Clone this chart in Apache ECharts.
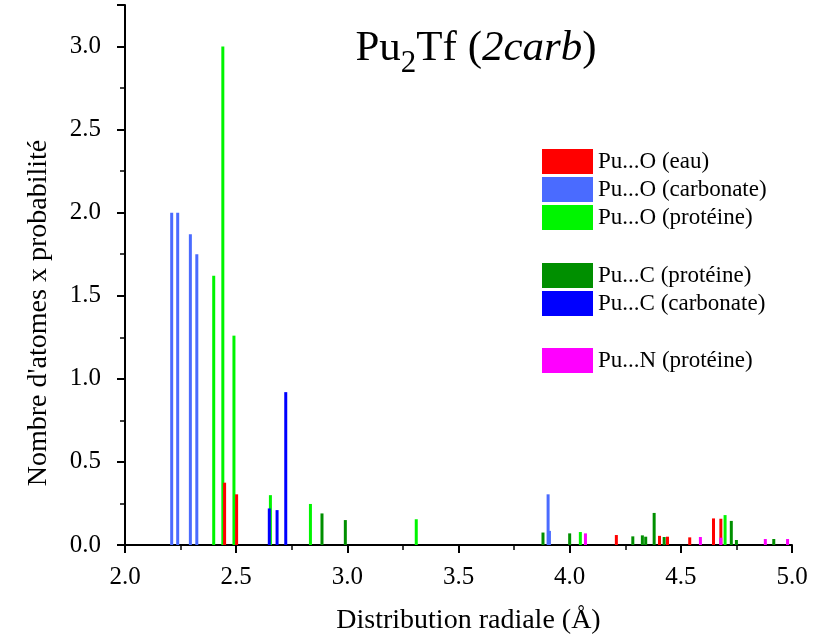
<!DOCTYPE html>
<html>
<head>
<meta charset="utf-8">
<script src="https://cdn.jsdelivr.net/npm/echarts@6/dist/echarts.min.js"></script>
<style>
  html, body { margin: 0; padding: 0; background: #fff; }
  #myChart { width: 813px; height: 643px; }
</style>
</head>
<body>
<div id="myChart"></div>
<script>
// distances (Å) and heights, one pair of arrays per series
var oEauX = [2.448, 2.502, 4.21, 4.404, 4.44, 4.54, 4.647, 4.68];
var oEauY = [0.375, 0.305, 0.06, 0.055, 0.05, 0.046, 0.16, 0.158];

var oCarbX = [2.21, 2.237, 2.294, 2.323, 3.903, 3.909];
var oCarbY = [2.0, 2.0, 1.87, 1.75, 0.305, 0.085];

var oProtX = [2.399, 2.44, 2.49, 2.654, 2.834, 3.31, 4.048, 4.699];
var oProtY = [1.62, 3.0, 1.26, 0.30, 0.247, 0.155, 0.078, 0.18];

var cProtX = [2.886, 2.991, 3.88, 4.0, 4.284, 4.327, 4.342, 4.38, 4.425, 4.727, 4.75, 4.918];
var cProtY = [0.19, 0.15, 0.075, 0.07, 0.052, 0.058, 0.05, 0.193, 0.048, 0.145, 0.03, 0.036];

var cCarbX = [2.649, 2.684, 2.723];
var cCarbY = [0.22, 0.21, 0.92];

var nProtX = [4.071, 4.588, 4.68, 4.88, 4.98];
var nProtY = [0.07, 0.048, 0.044, 0.036, 0.036];

var names = ['Pu...O (eau)', 'Pu...O (carbonate)', 'Pu...O (protéine)',
             'Pu...C (protéine)', 'Pu...C (carbonate)', 'Pu...N (protéine)'];
var colors = ['#ff0000', '#4a6bff', '#00f500', '#008f00', '#0000ff', '#ff00ff'];
var xs = [oEauX, oCarbX, oProtX, cProtX, cCarbX, nProtX];
var ys = [oEauY, oCarbY, oProtY, cProtY, cCarbY, nProtY];
var zOrder = [5, 2, 3, 2, 4, 6];

function pairs (a, b) {
  var out = [];
  for (var i = 0; i < a.length; i++) out.push([a[i], b[i]]);
  return out;
}

var serif = 'Liberation Serif';
var series = [];
for (var k = 0; k < names.length; k++) {
  series.push({
    name: names[k],
    type: 'bar',
    barWidth: 3,
    barGap: '-100%',
    z: zOrder[k],
    itemStyle: { color: colors[k] },
    data: pairs(xs[k], ys[k])
  });
}

function legendBlock (top, data) {
  return {
    orient: 'vertical',
    left: 537,
    top: top,
    itemWidth: 51,
    itemHeight: 25,
    itemGap: 3,
    icon: 'rect',
    data: data,
    selectedMode: false,
    textStyle: { fontFamily: serif, fontSize: 23, color: '#000', padding: [0, 0, 0, 0] }
  };
}

var myChart = echarts.init(document.getElementById('myChart'));
myChart.setOption({
  animation: false,
  title: {
    text: '{a|Pu}{s|2}{a|Tf (}{i|2carb}{a|)}',
    left: 471,
    top: 13,
    textAlign: 'center',
    textStyle: {
      fontWeight: 'normal',
      rich: {
        a: { fontFamily: serif, fontSize: 43, fontWeight: 'normal', color: '#000' },
        s: { fontFamily: serif, fontSize: 31, fontWeight: 'normal', color: '#000', padding: [30, 0, 0, 0] },
        i: { fontFamily: serif, fontSize: 43, fontWeight: 'normal', fontStyle: 'italic', color: '#000' }
      }
    }
  },
  legend: [
    legendBlock(144, names.slice(0, 3)),
    legendBlock(258, names.slice(3, 5)),
    legendBlock(343, names.slice(5))
  ],
  grid: { left: 125, right: 21, top: 5, bottom: 98 },
  xAxis: {
    type: 'value',
    min: 2.0,
    max: 5.0,
    interval: 0.5,
    name: 'Distribution radiale (Å)',
    nameLocation: 'middle',
    nameGap: 62,
    nameTextStyle: { fontFamily: serif, fontSize: 28, color: '#000', padding: [0, 0, 0, 20] },
    axisLine: { lineStyle: { color: '#000', width: 2 } },
    axisTick: { inside: false, length: 8, lineStyle: { color: '#000', width: 2 } },
    minorTick: { show: true, splitNumber: 2, length: 5, lineStyle: { color: '#000', width: 1.5 } },
    axisLabel: {
      margin: 20,
      fontFamily: serif, fontSize: 25, color: '#000',
      formatter: function (v) { return v.toFixed(1); }
    },
    splitLine: { show: false }
  },
  yAxis: {
    type: 'value',
    min: 0,
    max: 3.25,
    interval: 0.5,
    name: "Nombre d'atomes x probabilité",
    nameLocation: 'middle',
    nameGap: 72,
    nameTextStyle: { fontFamily: serif, fontSize: 28, color: '#000', padding: [0, 76, 0, 0] },
    axisLine: { show: true, lineStyle: { color: '#000', width: 2 } },
    axisTick: { show: true, inside: false, length: 8, lineStyle: { color: '#000', width: 2 } },
    minorTick: { show: true, splitNumber: 2, length: 5, lineStyle: { color: '#000', width: 1.5 } },
    axisLabel: {
      margin: 24,
      fontFamily: serif, fontSize: 25, color: '#000',
      showMaxLabel: false,
      formatter: function (v) { return v.toFixed(1); }
    },
    splitLine: { show: false }
  },
  series: series
});
</script>
</body>
</html>
